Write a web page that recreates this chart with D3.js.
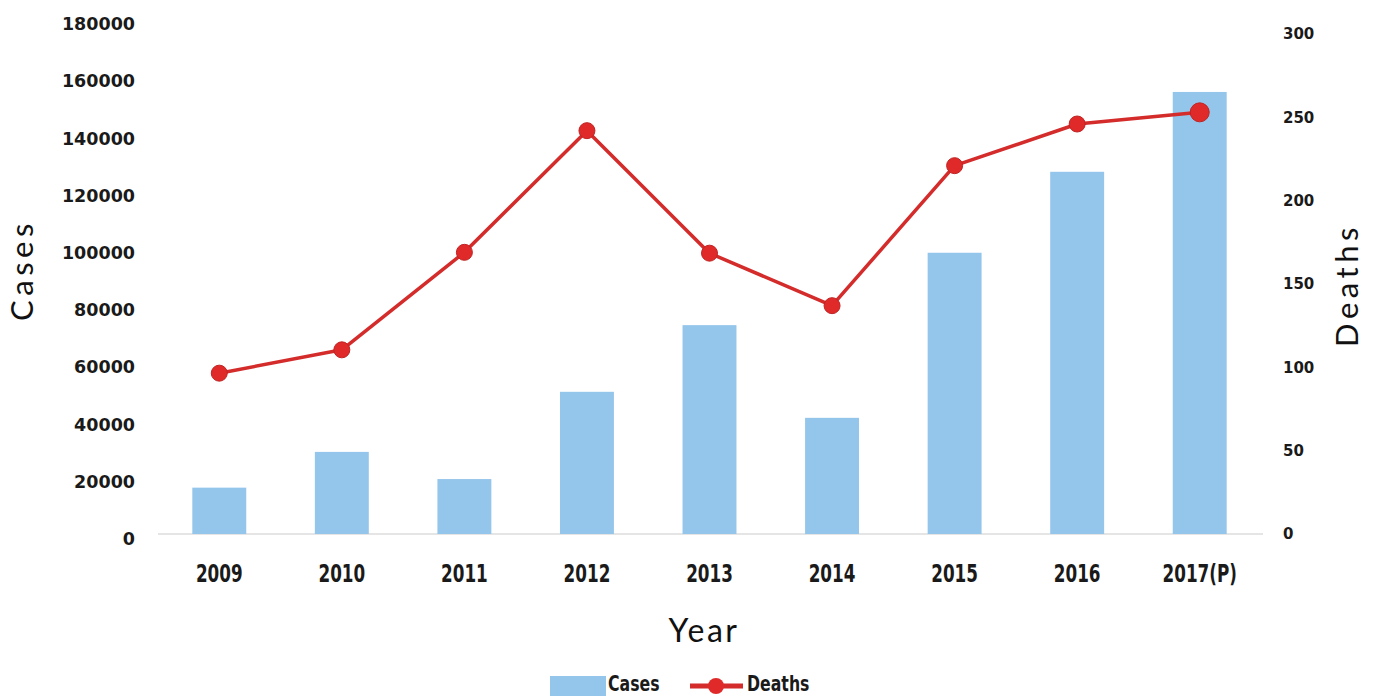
<!DOCTYPE html>
<html>
<head>
<meta charset="utf-8">
<script src="https://cdn.jsdelivr.net/npm/d3@7"></script>
<style>
  body { margin: 0; background: #ffffff; }
  svg { display: block; }
</style>
</head>
<body>
<div id="chart"></div>
<script>
// Cases (bars, left axis) and deaths (line, right axis) per year

const years = ["2009", "2010", "2011", "2012", "2013", "2014", "2015", "2016", "2017(P)"];
const cases = [16200, 28700, 19200, 49700, 73000, 40600, 98300, 126600, 154500];
const deaths = [96.5, 110.5, 169, 242, 168.5, 137, 221, 246, 253];
const casesTicks = [0, 20000, 40000, 60000, 80000, 100000, 120000, 140000, 160000, 180000];
const deathsTicks = [0, 50, 100, 150, 200, 250, 300];

var width = 1374;
var height = 697;
var barColor = "#94c5eb";
var lineColor = "#d42b2b";
var numFont = "'DejaVu Sans', sans-serif";
var titleFont = "Lato, 'Open Sans', sans-serif";

var svg = d3.select("#chart").append("svg")
    .attr("width", width)
    .attr("height", height);

const xScale = d3.scaleBand()
    .domain(years)
    .range([158, 1261])
    .paddingInner(0.56)
    .paddingOuter(0.28);

const yLeft = d3.scaleLinear()
    .domain([0, 180000])
    .range([534, 19]);

const yRight = d3.scaleLinear()
    .domain([0, 300])
    .range([534, 34]);

// baseline
svg.append("line")
    .attr("x1", 158)
    .attr("x2", 1263)
    .attr("y1", yLeft(0))
    .attr("y2", yLeft(0))
    .attr("stroke", "#dcdcdc")
    .attr("stroke-width", 1.5);

// left axis
const leftAxis = svg.append("g")
    .attr("transform", "translate(135,0)")
    .call(d3.axisLeft(yLeft).tickValues(casesTicks).tickSize(0).tickPadding(0).tickFormat(d3.format("d")));
leftAxis.select(".domain").remove();
leftAxis.selectAll("text")
    .attr("dy", "0.32em")
    .attr("y", 5)
    .attr("fill", "#1a1a1a")
    .style("font-family", numFont)
    .style("font-weight", "bold")
    .style("font-size", "17.5px");

// right axis
const rightAxis = svg.append("g")
    .attr("transform", "translate(1283,0)")
    .call(d3.axisRight(yRight).tickValues(deathsTicks).tickSize(0).tickPadding(0).tickFormat(d3.format("d")));
rightAxis.select(".domain").remove();
rightAxis.selectAll("text")
    .attr("fill", "#1a1a1a")
    .style("font-family", numFont)
    .style("font-weight", "bold")
    .style("font-size", "15px");

// x axis labels, squeezed to look like a condensed face
const xAxis = svg.append("g")
    .attr("transform", "translate(0,565)")
    .call(d3.axisBottom(xScale).tickSize(0).tickPadding(0));
xAxis.select(".domain").remove();
xAxis.selectAll("text")
    .attr("transform", "scale(0.7,1)")
    .attr("fill", "#1a1a1a")
    .style("font-family", numFont)
    .style("font-weight", "bold")
    .style("font-size", "24px");

// bars
svg.append("g")
    .selectAll("rect")
    .data(years)
    .enter()
    .append("rect")
    .attr("x", d => xScale(d))
    .attr("y", (d, i) => yLeft(cases[i]))
    .attr("width", xScale.bandwidth())
    .attr("height", (d, i) => yLeft(0) - yLeft(cases[i]))
    .attr("fill", barColor);

// deaths line
const line = d3.line()
    .x((d, i) => xScale(years[i]) + xScale.bandwidth() / 2)
    .y(d => yRight(d));

svg.append("path")
    .datum(deaths)
    .attr("d", line)
    .attr("fill", "none")
    .attr("stroke", lineColor)
    .attr("stroke-width", 3.5)
    .attr("stroke-linejoin", "round");

svg.append("g")
    .selectAll("circle")
    .data(deaths)
    .enter()
    .append("circle")
    .attr("cx", (d, i) => xScale(years[i]) + xScale.bandwidth() / 2)
    .attr("cy", d => yRight(d))
    .attr("r", (d, i) => i === deaths.length - 1 ? 9.5 : 8)
    .attr("fill", "#e02a2a")
    .attr("stroke", "#c02323")
    .attr("stroke-width", 1);

// axis titles
svg.append("text")
    .attr("transform", "translate(33,270) rotate(-90)")
    .attr("text-anchor", "middle")
    .style("font-family", titleFont)
    .style("font-size", "31px")
    .style("letter-spacing", "4.5px")
    .attr("fill", "#111")
    .text("Cases");

svg.append("text")
    .attr("transform", "translate(1358,285) rotate(-90)")
    .attr("text-anchor", "middle")
    .style("font-family", titleFont)
    .style("font-size", "31px")
    .style("letter-spacing", "4.5px")
    .attr("fill", "#111")
    .text("Deaths");

svg.append("text")
    .attr("x", 704)
    .attr("y", 642)
    .attr("text-anchor", "middle")
    .style("font-family", titleFont)
    .style("font-size", "32px")
    .style("letter-spacing", "2.5px")
    .attr("fill", "#111")
    .text("Year");

// legend
const legend = svg.append("g");
legend.append("rect")
    .attr("x", 550)
    .attr("y", 676)
    .attr("width", 56)
    .attr("height", 20)
    .attr("fill", barColor);
legend.append("text")
    .attr("transform", "translate(608,691) scale(0.75,1)")
    .style("font-family", numFont)
    .style("font-weight", "bold")
    .style("font-size", "21px")
    .attr("fill", "#1a1a1a")
    .text("Cases");
legend.append("line")
    .attr("x1", 690)
    .attr("x2", 743)
    .attr("y1", 686)
    .attr("y2", 686)
    .attr("stroke", lineColor)
    .attr("stroke-width", 5);
legend.append("circle")
    .attr("cx", 716)
    .attr("cy", 686)
    .attr("r", 8)
    .attr("fill", "#e02a2a");
legend.append("text")
    .attr("transform", "translate(747,691) scale(0.75,1)")
    .style("font-family", numFont)
    .style("font-weight", "bold")
    .style("font-size", "21px")
    .attr("fill", "#1a1a1a")
    .text("Deaths");
</script>
</body>
</html>
